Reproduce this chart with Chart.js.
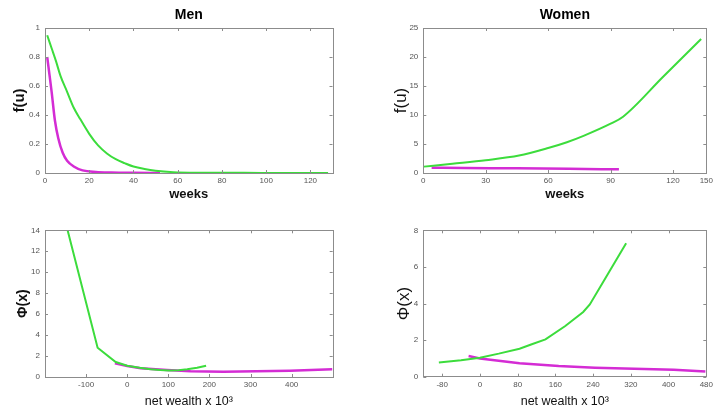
<!DOCTYPE html>
<html>
<head>
<meta charset="utf-8">
<script src="https://cdn.jsdelivr.net/npm/chart.js@4.4.0/dist/chart.umd.min.js"></script>
<style>
  body { margin: 0; background: #fff; }
  #wrap { position: relative; width: 716px; height: 413px; overflow: hidden; }
  canvas { position: absolute; }
</style>
</head>
<body>
<div id="wrap">
  <canvas id="menWeeks" width="358" height="206" style="left:0;top:0"></canvas>
  <canvas id="womenWeeks" width="358" height="206" style="left:358px;top:0"></canvas>
  <canvas id="menWealth" width="358" height="207" style="left:0;top:206px"></canvas>
  <canvas id="womenWealth" width="358" height="207" style="left:358px;top:206px"></canvas>
</div>
<script>
// Men, f(u) against weeks
const menWeeksGreen = [1, 3, 5, 7, 10, 13, 16, 20, 24, 28, 32, 36, 40, 45, 50, 58, 70, 90, 110, 128];
const menHazardGreen = [0.95, 0.86, 0.77, 0.67, 0.56, 0.45, 0.37, 0.27, 0.19, 0.135, 0.095, 0.068, 0.045, 0.028, 0.016, 0.006, 0.002, 0.001, 0, 0];
const menWeeksMagenta = [1, 2, 3, 4.5, 6, 8, 10, 13, 17, 23, 30, 40, 52];
const menHazardMagenta = [0.80, 0.68, 0.56, 0.36, 0.24, 0.14, 0.085, 0.045, 0.018, 0.007, 0.003, 0.001, 0];

// Women, f(u) against weeks
const womenWeeksGreen = [0.3, 14, 30, 46, 60, 69, 77, 90, 96, 115, 133.5];
const womenHazardGreen = [1.1, 1.6, 2.2, 3.0, 4.3, 5.3, 6.4, 8.5, 9.7, 16.5, 23.1];
const womenWeeksMagenta = [4, 20, 45, 70, 94];
const womenHazardMagenta = [0.92, 0.87, 0.8, 0.72, 0.63];

// Men, Phi(x) against net wealth
const menWealthGreen = [-145, -72, -28, 0, 30, 57, 80, 101, 125, 146, 170, 192];
const menPhiGreen = [14, 2.8, 1.43, 1.07, 0.88, 0.74, 0.66, 0.62, 0.64, 0.73, 0.88, 1.08];
const menWealthMagenta = [-30, 0, 33, 97, 154, 234, 315, 396, 499];
const menPhiMagenta = [1.3, 1.05, 0.83, 0.67, 0.54, 0.51, 0.54, 0.6, 0.73];

// Women, Phi(x) against net wealth
const womenWealthGreen = [-87, -40, 0, 40, 84, 110, 139, 181, 219, 233, 271, 310];
const womenPhiGreen = [0.77, 0.9, 1.04, 1.26, 1.53, 1.77, 2.04, 2.77, 3.54, 3.95, 5.6, 7.29];
const womenWealthMagenta = [-24, 0, 84, 167, 244, 327, 411, 478];
const womenPhiMagenta = [1.13, 1.0, 0.73, 0.58, 0.49, 0.44, 0.38, 0.29];

// tick values and labels
const menWeekTicks = [0, 20, 40, 60, 80, 100, 120];
const menWeekLabels = ['0', '20', '40', '60', '80', '100', '120'];
const menHazardTicks = [0, 0.2, 0.4, 0.6, 0.8, 1];
const menHazardLabels = ['0', '0.2', '0.4', '0.6', '0.8', '1'];
const womenWeekTicks = [0, 30, 60, 90, 120, 136];
const womenWeekLabels = ['0', '30', '60', '90', '120', '150'];
const womenHazardTicks = [0, 5, 10, 15, 20, 25];
const womenHazardLabels = ['0', '5', '10', '15', '20', '25'];
const menWealthTicks = [-100, 0, 100, 200, 300, 400];
const menWealthLabels = ['-100', '0', '100', '200', '300', '400'];
const menPhiTicks = [0, 2, 4, 6, 8, 10, 12, 14];
const menPhiLabels = ['0', '2', '4', '6', '8', '10', '12', '14'];
const womenWealthTicks = [-80, 0, 80, 160, 240, 320, 400, 480];
const womenWealthLabels = ['-80', '0', '80', '160', '240', '320', '400', '480'];
const womenPhiTicks = [0, 2, 4, 6, 8];
const womenPhiLabels = ['0', '2', '4', '6', '8'];

const GREEN = '#3cdc3c';
const MAGENTA = '#d42cd4';
const FONT = "'Liberation Sans', Arial, sans-serif";

const toPoints = (xs, ys) => xs.map((x, i) => ({ x: x, y: ys[i] }));

// gray box around the plot area with small inward ticks on all sides
const boxPlugin = {
    id: 'matlabBox',
    afterDatasetsDraw(chart) {
        const { ctx, chartArea: a, scales } = chart;
        ctx.save();
        ctx.strokeStyle = '#8c8c8c';
        ctx.lineWidth = 1;
        ctx.beginPath();
        scales.x.ticks.forEach(t => {
            const px = Math.round(scales.x.getPixelForValue(t.value)) + 0.5;
            ctx.moveTo(px, a.bottom); ctx.lineTo(px, a.bottom - 3);
            ctx.moveTo(px, a.top); ctx.lineTo(px, a.top + 3);
        });
        scales.y.ticks.forEach(t => {
            const py = Math.round(scales.y.getPixelForValue(t.value)) + 0.5;
            ctx.moveTo(a.left, py); ctx.lineTo(a.left + 3, py);
            ctx.moveTo(a.right, py); ctx.lineTo(a.right - 3, py);
        });
        ctx.stroke();
        ctx.strokeRect(Math.round(a.left) + 0.5, Math.round(a.top) + 0.5,
            Math.round(a.right - a.left), Math.round(a.bottom - a.top));
        ctx.restore();
    }
};

const makeChart = (id, opt) => {
    const ctx = document.getElementById(id).getContext('2d');
    return new Chart(ctx, {
        type: 'line',
        data: {
            datasets: [
                {
                    label: 'green',
                    data: toPoints(opt.greenX, opt.greenY),
                    borderColor: GREEN,
                    borderWidth: 2,
                    pointRadius: 0,
                    cubicInterpolationMode: opt.smooth ? 'monotone' : 'default',
                    tension: 0
                },
                {
                    label: 'magenta',
                    data: toPoints(opt.magX, opt.magY),
                    borderColor: MAGENTA,
                    borderWidth: 2.5,
                    pointRadius: 0,
                    cubicInterpolationMode: opt.smooth ? 'monotone' : 'default',
                    tension: 0
                }
            ]
        },
        options: {
            responsive: false,
            animation: false,
            layout: { padding: { top: opt.padTop, right: opt.padRight, left: 0, bottom: 0 } },
            plugins: {
                legend: { display: false },
                tooltip: { enabled: false },
                title: {
                    display: !!opt.title,
                    text: opt.title,
                    fullSize: false,
                    color: '#000',
                    font: { family: FONT, size: 14, weight: 'bold' },
                    padding: { top: 6.5, bottom: 4.7 }
                }
            },
            scales: {
                x: {
                    type: 'linear',
                    min: opt.xMin,
                    max: opt.xMax,
                    grid: { display: false, drawTicks: false, tickLength: 0 },
                    border: { display: false },
                    afterBuildTicks: s => { s.ticks = opt.xTicks.map(v => ({ value: v })); },
                    afterFit: s => { s.height = opt.xHeight; },
                    ticks: {
                        autoSkip: false,
                        maxRotation: 0,
                        padding: 3,
                        color: '#555',
                        font: { family: FONT, size: 8 },
                        callback: (v, i) => opt.xLabels[i]
                    },
                    title: {
                        display: true,
                        text: opt.xTitle,
                        color: '#111',
                        font: { family: FONT, size: opt.xTitleSize, weight: opt.xTitleWeight },
                        padding: { top: 0, bottom: 4 }
                    }
                },
                y: {
                    type: 'linear',
                    min: opt.yMin,
                    max: opt.yMax,
                    grid: { display: false, drawTicks: false, tickLength: 0 },
                    border: { display: false },
                    afterBuildTicks: s => { s.ticks = opt.yTicks.map(v => ({ value: v })); },
                    afterFit: s => { s.width = opt.yWidth; },
                    ticks: {
                        autoSkip: false,
                        padding: 5,
                        color: '#555',
                        font: { family: FONT, size: 8 },
                        callback: (v, i) => opt.yLabels[i]
                    },
                    title: {
                        display: true,
                        text: opt.yTitle,
                        color: '#111',
                        font: { family: FONT, size: opt.yTitleSize, weight: opt.yTitleWeight },
                        padding: { top: opt.yTitlePad, bottom: 0 }
                    }
                }
            }
        },
        plugins: [boxPlugin]
    });
};

makeChart('menWeeks', {
    title: 'Men', padTop: 0, padRight: 25.5, xHeight: 33, yWidth: 45, smooth: true,
    greenX: menWeeksGreen, greenY: menHazardGreen, magX: menWeeksMagenta, magY: menHazardMagenta,
    xMin: 0, xMax: 130, xTicks: menWeekTicks, xLabels: menWeekLabels,
    yMin: 0, yMax: 1, yTicks: menHazardTicks, yLabels: menHazardLabels,
    xTitle: 'weeks', xTitleSize: 13, xTitleWeight: 'bold',
    yTitle: 'f(u)', yTitleSize: 15, yTitleWeight: 'bold', yTitlePad: 11
});

makeChart('womenWeeks', {
    title: 'Women', padTop: 0, padRight: 5, xHeight: 33, yWidth: 65.3, smooth: true,
    greenX: womenWeeksGreen, greenY: womenHazardGreen, magX: womenWeeksMagenta, magY: womenHazardMagenta,
    xMin: 0, xMax: 136, xTicks: womenWeekTicks, xLabels: womenWeekLabels,
    yMin: 0, yMax: 25, yTicks: womenHazardTicks, yLabels: womenHazardLabels,
    xTitle: 'weeks', xTitleSize: 13, xTitleWeight: 'bold',
    yTitle: 'f(u)', yTitleSize: 17, yTitleWeight: 'normal', yTitlePad: 33
});

makeChart('menWealth', {
    title: '', padTop: 24.3, padRight: 25.3, xHeight: 36, yWidth: 45, smooth: false,
    greenX: menWealthGreen, greenY: menPhiGreen, magX: menWealthMagenta, magY: menPhiMagenta,
    xMin: -200, xMax: 500, xTicks: menWealthTicks, xLabels: menWealthLabels,
    yMin: 0, yMax: 14, yTicks: menPhiTicks, yLabels: menPhiLabels,
    xTitle: 'net wealth x 10³', xTitleSize: 12.5, xTitleWeight: 'normal',
    yTitle: 'Φ(x)', yTitleSize: 14, yTitleWeight: 'bold', yTitlePad: 15
});

makeChart('womenWealth', {
    title: '', padTop: 24.3, padRight: 7, xHeight: 36.3, yWidth: 65.3, smooth: false,
    greenX: womenWealthGreen, greenY: womenPhiGreen, magX: womenWealthMagenta, magY: womenPhiMagenta,
    xMin: -120, xMax: 480, xTicks: womenWealthTicks, xLabels: womenWealthLabels,
    yMin: 0, yMax: 8, yTicks: womenPhiTicks, yLabels: womenPhiLabels,
    xTitle: 'net wealth x 10³', xTitleSize: 12.5, xTitleWeight: 'normal',
    yTitle: 'Φ(x)', yTitleSize: 17, yTitleWeight: 'normal', yTitlePad: 36
});
</script>
</body>
</html>
